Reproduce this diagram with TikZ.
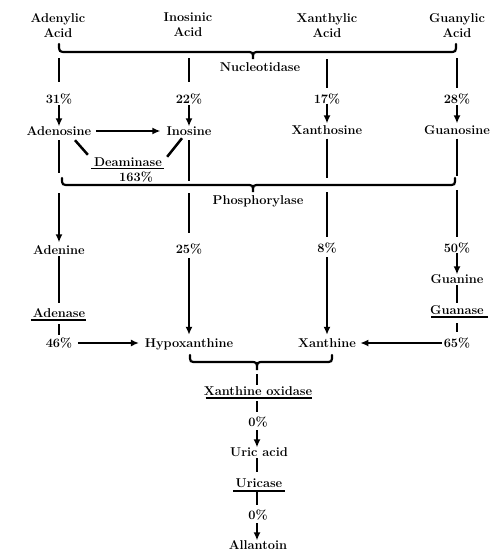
\documentclass[tikz,border=0pt]{standalone}
\usepackage{fontspec}
\usetikzlibrary{arrows.meta,calc}
\newcommand{\lblfont}{\fontsize{12.8}{15}\selectfont\bfseries\addfontfeatures{FakeBold=1.6}}
\begin{document}
\begin{tikzpicture}[x=1pt,y=-1pt,
  lbl/.style={inner sep=0pt, font=\lblfont, text height=8.8pt, text depth=0pt},
  ttl/.style={inner sep=0pt, font=\lblfont, align=center, anchor=north},
  ln/.style={line width=2.5pt},
  arr/.style={line width=2.5pt, -{Latex[length=8pt,width=7pt]}},
  brace/.style={line width=2.2pt, line cap=round},
  uline/.style={line width=1.8pt}]
\useasboundingbox (0,0) rectangle (500,555);

% titles
\node[ttl] (ada) at (58,13) {Adenylic\\Acid};
\node[ttl] (ina) at (188,13) {Inosinic\\Acid};
\node[ttl] (xaa) at (327,13) {Xanthylic\\Acid};
\node[ttl] (gua) at (457,13) {Guanylic\\Acid};

% top brace
\draw[brace] (59,44) .. controls (59,52) .. (67,52) -- (246,52) .. controls (253,52) .. (253,59)
  .. controls (253,52) .. (260,52) -- (449,52) .. controls (456,52) .. (456,44);
\node[lbl] (nuc) at (260,67) {Nucleotidase};

% nucleotides -> nucleosides
\coordinate (ca) at (59,58);
\coordinate (ci) at (189,58);
\coordinate (cx) at (327,59);
\coordinate (cg) at (457,58);
\node[lbl] (p31) at (59,99) {31\%};
\node[lbl] (p22) at (189,99) {22\%};
\node[lbl] (p17) at (327,99) {17\%};
\node[lbl] (p28) at (457,99) {28\%};
\draw[ln, shorten >=12.6pt] (ca) -- (p31);
\draw[ln, shorten >=12.6pt] (ci) -- (p22);
\draw[ln, shorten >=6.6pt] (cx) -- (p17);
\draw[ln, shorten >=6.6pt] (cg) -- (p28);

\node[lbl] (ados) at (59,131) {Adenosine};
\node[lbl] (inos) at (189,131) {Inosine};
\node[lbl] (xsn) at (327,130) {Xanthosine};
\node[lbl] (gsn) at (457,130) {Guanosine};
\draw[arr, shorten <=1.6pt] (p31) -- (ados);
\draw[arr, shorten <=1.6pt] (p22) -- (inos);
\draw[arr, shorten <=0pt, shorten >=2pt] (p17) -- (xsn);
\draw[arr, shorten <=1.6pt, shorten >=2pt] (p28) -- (gsn);

\draw[arr, shorten <=4.5pt, shorten >=6pt] (ados) -- (inos);

% deaminase
\node[lbl] (deam) at (128,162) {Deaminase};
\node[lbl] (p163) at (136,177) {163\%};
\draw[uline] ($(deam.south west)+(-3,1.8)$) -- ($(deam.south east)+(2,1.8)$);
\draw[ln] ($(ados.south)+(16,4.6)$) -- ($(deam.north west)+(-6,-2.6)$);
\draw[ln] ($(inos.south)+(-7,2.6)$) -- ($(deam.north east)+(5,-0.6)$);

% lines to phosphorylase brace
\coordinate (a1) at (59,173);
\coordinate (i1) at (189,181);
\coordinate (x1) at (327,178);
\coordinate (g1) at (457,176);
\draw[ln, shorten <=4.6pt] (ados) -- (a1);
\draw[ln, shorten <=4.6pt] (inos) -- (i1);
\draw[ln, shorten <=4pt] (xsn) -- (x1);
\draw[ln, shorten <=4pt] (gsn) -- (g1);

% phosphorylase brace
\draw[brace] (62,178) .. controls (62,185) .. (70,185) -- (246,185) .. controls (253,185) .. (253,192)
  .. controls (253,185) .. (260,185) -- (448,185) .. controls (455,185) .. (455,178);
\node[lbl] (phos) at (258,200) {Phosphorylase};

\coordinate (a2) at (59,193);
\coordinate (i2) at (189,193);
\coordinate (x2) at (327,192);
\coordinate (g2) at (457,190);

\node[lbl] (aden) at (59,250) {Adenine};
\node[lbl] (p25) at (189,249) {25\%};
\node[lbl] (p8) at (327,248) {8\%};
\node[lbl] (p50) at (457,248) {50\%};
\draw[arr, shorten >=3pt] (a2) -- (aden);
\draw[ln, shorten >=11.6pt] (i2) -- (p25);
\draw[ln, shorten >=6.6pt] (x2) -- (p8);
\draw[ln, shorten >=6.6pt] (g2) -- (p50);

% adenine branch
\node[lbl] (adase) at (59,313) {Adenase};
\draw[uline] ($(adase.south west)+(-2,2.6)$) -- ($(adase.south east)+(1,2.6)$);
\node[lbl] (p46) at (59,343) {46\%};
\draw[ln, shorten <=1.6pt, shorten >=5.6pt] (aden) -- (adase);
\draw[ln, shorten <=6.6pt, shorten >=3.6pt] (adase) -- (p46);

% guanine branch
\node[lbl] (guan) at (457,279) {Guanine};
\node[lbl] (gase) at (457,310) {Guanase};
\draw[uline] ($(gase.south west)+(1,2.6)$) -- ($(gase.south east)+(4,2.6)$);
\node[lbl] (p65) at (457,343) {65\%};
\draw[arr, shorten <=0.5pt] (p50) -- (guan);
\draw[ln, shorten <=1.6pt, shorten >=2.6pt] (guan) -- (gase);
\draw[ln, shorten <=8.6pt, shorten >=6.6pt] (gase) -- (p65);

% bases
\node[lbl] (hypo) at (189,343) {Hypoxanthine};
\node[lbl] (xan) at (327,343) {Xanthine};
\draw[arr, shorten <=4.6pt, shorten >=3.6pt] (p25) -- (hypo);
\draw[arr, shorten <=4.6pt, shorten >=3.6pt] (p8) -- (xan);
\draw[arr, shorten <=5.5pt, shorten >=5.6pt] (p46) -- (hypo);
\draw[arr, shorten <=1.5pt, shorten >=4.3pt] (p65) -- (xan);

% bottom brace
\draw[brace] (190,355) .. controls (190,362) .. (197,362) -- (250,362) .. controls (257,362) .. (257,370)
  .. controls (257,362) .. (264,362) -- (325,362) .. controls (332,362) .. (332,355);
\coordinate (b0) at (257,374);

\node[lbl] (xo) at (258,391) {Xanthine oxidase};
\draw[uline] ($(xo.south west)+(2,2.6)$) -- ($(xo.south east)+(0,2.6)$);
\node[lbl] (p0a) at (258,422) {0\%};
\node[lbl] (uric) at (259,452) {Uric acid};
\node[lbl] (ucase) at (259,483) {Uricase};
\draw[uline] ($(ucase.south west)+(-2,3.6)$) -- ($(ucase.south east)+(2,3.6)$);
\node[lbl] (p0b) at (258,515) {0\%};
\node[lbl] (alla) at (258,545) {Allantoin};

\draw[ln, shorten >=1.6pt] (b0) -- (b0 |- xo.north);
\draw[ln, shorten <=5.6pt, shorten >=5.6pt] (xo.south -| b0) -- (b0 |- p0a.north);
\draw[arr, shorten <=3.6pt] (b0 |- p0a.south) -- (b0 |- uric.north);
\draw[ln, shorten <=1.6pt, shorten >=6.6pt] (b0 |- uric.south) -- (b0 |- ucase.north);
\draw[ln, shorten <=4.6pt, shorten >=5.6pt] (b0 |- ucase.south) -- (b0 |- p0b.north);
\draw[arr, shorten <=3.6pt] (b0 |- p0b.south) -- (b0 |- alla.north);
\end{tikzpicture}
\end{document}
